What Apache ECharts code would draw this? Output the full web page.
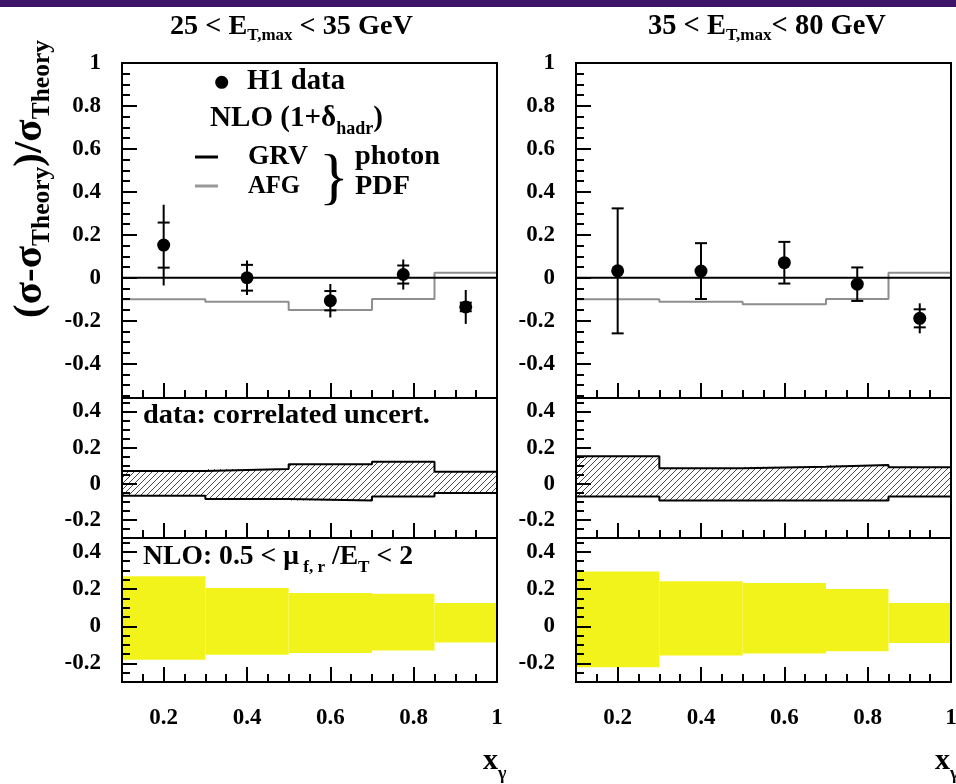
<!DOCTYPE html>
<html><head><meta charset="utf-8">
<script src="https://cdn.jsdelivr.net/npm/echarts@6/dist/echarts.min.js"></script>
<style>html,body{margin:0;padding:0;background:#fff}#c{width:956px;height:784px}</style>
</head><body><div id="c"></div>
<script>
// ---------------- data ----------------
const binEdges = [0.1, 0.3, 0.5, 0.7, 0.85, 1.0];
const xCenters = [0.2, 0.4, 0.6, 0.775, 0.925];
const xTickLabels = [0.2, 0.4, 0.6, 0.8, 1];
const yTopLabels = [-0.4, -0.2, 0, 0.2, 0.4, 0.6, 0.8, 1];
const yLowLabels = [-0.2, 0, 0.2, 0.4];

// 25 < ET,max < 35 GeV
const h1Left   = [0.152, 0.0, -0.107, 0.015, -0.136];
const statLeft = [0.105, 0.06, 0.045, 0.042, 0.02];
const totLeft  = [0.188, 0.08, 0.078, 0.07, 0.079];
const grvLeft  = [0, 0, 0, 0, 0];
const afgLeft  = [-0.10, -0.112, -0.15, -0.099, 0.023];
const corrUpLeft = [0.071, 0.082, 0.108, 0.122, 0.067];
const corrLoLeft = [-0.066, -0.084, -0.093, -0.07, -0.051];
const scaleUpLeft = [0.269, 0.206, 0.179, 0.175, 0.125];
const scaleLoLeft = [-0.18, -0.153, -0.144, -0.131, -0.087];

// 35 < ET,max < 80 GeV
const h1Right   = [0.032, 0.031, 0.07, -0.03, -0.189];
const statRight = [0.291, 0.13, 0.097, 0.078, 0.042];
const totRight  = [0.291, 0.13, 0.097, 0.078, 0.07];
const grvRight  = [0, 0, 0, 0, 0];
const afgRight  = [-0.10, -0.112, -0.124, -0.099, 0.023];
const corrUpRight = [0.153, 0.086, 0.095, 0.104, 0.092];
const corrLoRight = [-0.07, -0.093, -0.093, -0.093, -0.07];
const scaleUpRight = [0.295, 0.242, 0.233, 0.2, 0.125];
const scaleLoRight = [-0.221, -0.158, -0.147, -0.135, -0.09];

// ---------------- helpers ----------------
const FAM = '"Liberation Serif","Times New Roman",Times,serif';
const mctx = document.createElement('canvas').getContext('2d');
function tw(t, size, weight) { mctx.font = (weight || 'bold') + ' ' + size + 'px ' + FAM; return mctx.measureText(t).width; }
// parts: [text, relSize, relDy, weight]
function textRun(parts, x0, yMid, base, target) {
  let scale = 1;
  if (target) { let w = 0; parts.forEach(p => { w += tw(p[0], base * p[1], p[3]); }); scale = target / w; }
  const size = base * scale;
  let x = x0; const out = [];
  parts.forEach(p => {
    const s = size * p[1];
    const f = (p[3] || 'bold') + ' ' + s.toFixed(2) + 'px ' + FAM;
    out.push({ type: 'text', x: x, y: yMid + (p[2] || 0) * size, z: 100,
      style: { text: p[0], font: f, fill: '#000', textAlign: 'left', textVerticalAlign: 'middle', align: 'left', verticalAlign: 'middle' } });
    x += tw(p[0], s, p[3]);
  });
  return out;
}
function fmt(v) { if (Math.abs(v) < 1e-9) return '0'; return String(+v.toFixed(2)); }
function range(a, b, st, skip) { const r = []; for (let v = a; v <= b + 1e-9; v += st) { const q = +v.toFixed(3); if (!skip.some(s => Math.abs(s - q) < 1e-6)) r.push(q); } return r; }
function stepData(vals) { return binEdges.map((e, i) => [e, vals[Math.min(i, vals.length - 1)]]); }

// hatch pattern
const pc = document.createElement('canvas'); pc.width = 6; pc.height = 6;
const pg = pc.getContext('2d'); pg.strokeStyle = '#4a4a4a'; pg.lineWidth = 1;
pg.beginPath(); pg.moveTo(0, 6); pg.lineTo(6, 0); pg.moveTo(-1, 1); pg.lineTo(1, -1); pg.moveTo(5, 7); pg.lineTo(7, 5); pg.stroke();

// ---------------- layout ----------------
const colLeft = [122, 576], colW = 375;
const rowTop = [63, 398, 538], rowH = [335, 140, 144];
const yRange = [[-0.56, 1.0], [-0.3, 0.475], [-0.3, 0.475]];

const grids = [], xAxes = [], yAxes = [], series = [];
const sets = [
  { h1: h1Left, stat: statLeft, tot: totLeft, grv: grvLeft, afg: afgLeft, cu: corrUpLeft, cl: corrLoLeft, su: scaleUpLeft, sl: scaleLoLeft },
  { h1: h1Right, stat: statRight, tot: totRight, grv: grvRight, afg: afgRight, cu: corrUpRight, cl: corrLoRight, su: scaleUpRight, sl: scaleLoRight }
];
const xMajor = [0.2, 0.4, 0.6, 0.8];
const xMinor = range(0.15, 0.95, 0.05, xMajor);

for (let c = 0; c < 2; c++) {
  for (let r = 0; r < 3; r++) {
    const p = c * 3 + r;
    grids.push({ left: colLeft[c], top: rowTop[r], width: colW, height: rowH[r], show: true, borderColor: '#000', borderWidth: 2,
      backgroundColor: 'transparent', z: 5, containLabel: false, outerBoundsMode: 'none' });
    const tickStyle = { color: '#000', width: 2 };
    const lblFont = { color: '#000', fontFamily: FAM, fontWeight: 'bold', fontSize: 23 };
    xAxes.push({ type: 'value', gridIndex: p, min: 0.1, max: 1.0, position: 'bottom', z: 10,
      axisLine: { show: false, onZero: false }, splitLine: { show: false },
      axisTick: { show: true, inside: true, length: 15, customValues: xMajor, lineStyle: tickStyle },
      axisLabel: Object.assign({ show: r === 2, customValues: xTickLabels, formatter: fmt, margin: 25, showMaxLabel: true, showMinLabel: true, hideOverlap: false }, lblFont) });
    xAxes.push({ type: 'value', gridIndex: p, min: 0.1, max: 1.0, position: 'bottom', z: 10,
      axisLine: { show: false, onZero: false }, splitLine: { show: false },
      axisTick: { show: true, inside: true, length: 8, customValues: xMinor, lineStyle: tickStyle },
      axisLabel: { show: false } });
    const labs = r === 0 ? yTopLabels : yLowLabels;
    const yr = yRange[r];
    const minor = range(Math.ceil(yr[0] / 0.05) * 0.05, yr[1], 0.05, labs);
    yAxes.push({ type: 'value', gridIndex: p, min: yr[0], max: yr[1], position: 'left', z: 10,
      axisLine: { show: false, onZero: false }, splitLine: { show: false },
      axisTick: { show: true, inside: true, length: 15, customValues: labs, lineStyle: tickStyle },
      axisLabel: Object.assign({ show: true, customValues: labs, formatter: fmt, margin: 21, showMaxLabel: true, showMinLabel: true }, lblFont) });
    yAxes.push({ type: 'value', gridIndex: p, min: yr[0], max: yr[1], position: 'left', z: 10,
      axisLine: { show: false, onZero: false }, splitLine: { show: false },
      axisTick: { show: true, inside: true, length: 8, customValues: minor, lineStyle: tickStyle },
      axisLabel: { show: false } });

    const S = sets[c];
    const xi = 2 * p, yi = 2 * p;
    if (r === 0) {
      series.push({ type: 'line', xAxisIndex: xi, yAxisIndex: yi, step: 'end', data: stepData(S.afg), symbol: 'none', lineStyle: { color: '#8e8e8e', width: 2 }, z: 2 });
      series.push({ type: 'line', xAxisIndex: xi, yAxisIndex: yi, step: 'end', data: stepData(S.grv), symbol: 'none', lineStyle: { color: '#000', width: 2 }, z: 3 });
      series.push({ type: 'custom', xAxisIndex: xi, yAxisIndex: yi, z: 4,
        data: xCenters.map((x, i) => [x, S.h1[i], S.stat[i], S.tot[i]]),
        encode: { x: 0, y: 1 },
        renderItem: (params, api) => {
          const x = api.value(0), y = api.value(1), s = api.value(2), t = api.value(3);
          const a = api.coord([x, y + t]), b = api.coord([x, y - t]);
          const u = api.coord([x, y + s]), d = api.coord([x, y - s]);
          const hw = 6, st = { stroke: '#000', lineWidth: 2 };
          return { type: 'group', children: [
            { type: 'line', shape: { x1: a[0], y1: a[1], x2: b[0], y2: b[1] }, style: st },
            { type: 'line', shape: { x1: u[0] - hw, y1: u[1], x2: u[0] + hw, y2: u[1] }, style: st },
            { type: 'line', shape: { x1: d[0] - hw, y1: d[1], x2: d[0] + hw, y2: d[1] }, style: st }
          ] };
        } });
      series.push({ type: 'scatter', xAxisIndex: xi, yAxisIndex: yi, z: 5, symbol: 'circle', symbolSize: 13,
        itemStyle: { color: '#000', opacity: 1 }, data: xCenters.map((x, i) => [x, S.h1[i]]) });
    } else if (r === 1) {
      series.push({ type: 'custom', xAxisIndex: xi, yAxisIndex: yi, z: 2,
        data: S.cu.map((v, i) => [binEdges[i], binEdges[i + 1], S.cl[i], v]),
        encode: { x: [0, 1], y: [2, 3] },
        renderItem: (params, api) => {
          const a = api.coord([api.value(0), api.value(3)]), b = api.coord([api.value(1), api.value(2)]);
          return { type: 'rect', shape: { x: a[0], y: a[1], width: b[0] - a[0], height: b[1] - a[1] },
            style: { fill: { image: pc, repeat: 'repeat' } } };
        } });
      series.push({ type: 'line', xAxisIndex: xi, yAxisIndex: yi, step: 'end', data: stepData(S.cu), symbol: 'none', lineStyle: { color: '#000', width: 2 }, z: 3 });
      series.push({ type: 'line', xAxisIndex: xi, yAxisIndex: yi, step: 'end', data: stepData(S.cl), symbol: 'none', lineStyle: { color: '#000', width: 2 }, z: 3 });
    } else {
      series.push({ type: 'custom', xAxisIndex: xi, yAxisIndex: yi, z: 2,
        data: S.su.map((v, i) => [binEdges[i], binEdges[i + 1], S.sl[i], v]),
        encode: { x: [0, 1], y: [2, 3] },
        renderItem: (params, api) => {
          const a = api.coord([api.value(0), api.value(3)]), b = api.coord([api.value(1), api.value(2)]);
          return { type: 'rect', shape: { x: a[0], y: a[1], width: b[0] - a[0], height: b[1] - a[1] },
            style: { fill: '#f3f31c' } };
        } });
    }
  }
}

// ---------------- texts ----------------
let gfx = [];
gfx.push({ type: 'rect', shape: { x: 0, y: 0, width: 956, height: 7 }, style: { fill: '#3e1468' }, z: 100 });
gfx = gfx.concat(textRun([['25 < E', 1, 0], ['T,max', 0.6, 0.3], [' < 35 GeV', 1, 0]], 170, 27, 26, 243));
gfx = gfx.concat(textRun([['35 < E', 1, 0], ['T,max', 0.6, 0.3], ['< 80 GeV', 1, 0]], 648, 27, 26, 238));
gfx.push({ type: 'group', x: 30, y: 318, rotation: Math.PI / 2,
  children: textRun([['(σ-σ', 1, 0], ['Theory', 0.62, 0.3], [')/σ', 1, 0], ['Theory', 0.62, 0.3]], 0, 0, 34, 278) });
// legend
gfx.push({ type: 'circle', shape: { cx: 221.7, cy: 82.3, r: 6.5 }, style: { fill: '#000' }, z: 100 });
gfx = gfx.concat(textRun([['H1 data', 1, 0]], 247, 82, 27, 98));
gfx = gfx.concat(textRun([['NLO (1+δ', 1, 0], ['hadr', 0.62, 0.38], [')', 1, 0]], 210, 118, 27, 173));
gfx.push({ type: 'line', shape: { x1: 195, y1: 157, x2: 218, y2: 157 }, style: { stroke: '#000', lineWidth: 3 }, z: 100 });
gfx.push({ type: 'line', shape: { x1: 195, y1: 186, x2: 218, y2: 186 }, style: { stroke: '#999', lineWidth: 3 }, z: 100 });
gfx = gfx.concat(textRun([['GRV', 1, 0]], 248, 157, 27, 60));
gfx = gfx.concat(textRun([['AFG', 1, 0]], 248, 187, 27, 52));
gfx = gfx.concat(textRun([['photon', 1, 0]], 355, 157, 27, 85));
gfx = gfx.concat(textRun([['PDF', 1, 0]], 355, 187, 27, 55));
gfx.push({ type: 'text', x: 334, y: 181, z: 100, style: { text: '}', font: 'normal 62px ' + FAM, fill: '#000', textAlign: 'center', textVerticalAlign: 'middle', align: 'center', verticalAlign: 'middle' } });
gfx = gfx.concat(textRun([['data: correlated uncert.', 1, 0]], 143, 416, 26, 287));
gfx = gfx.concat(textRun([['NLO: 0.5 < μ', 1, 0], [' f, r', 0.62, 0.4], [' /E', 1, 0], ['T', 0.62, 0.4], [' < 2', 1, 0]], 143, 557, 26, 270));
gfx = gfx.concat(textRun([['x', 1, 0], ['γ', 0.6, 0.45]], 483, 761, 30));
gfx = gfx.concat(textRun([['x', 1, 0], ['γ', 0.6, 0.45]], 935, 761, 30));

const chart = echarts.init(document.getElementById('c'), null, { renderer: 'canvas' });
chart.setOption({
  animation: false,
  backgroundColor: '#fff',
  grid: grids, xAxis: xAxes, yAxis: yAxes, series: series,
  graphic: { elements: gfx }
});
</script>
</body></html>
